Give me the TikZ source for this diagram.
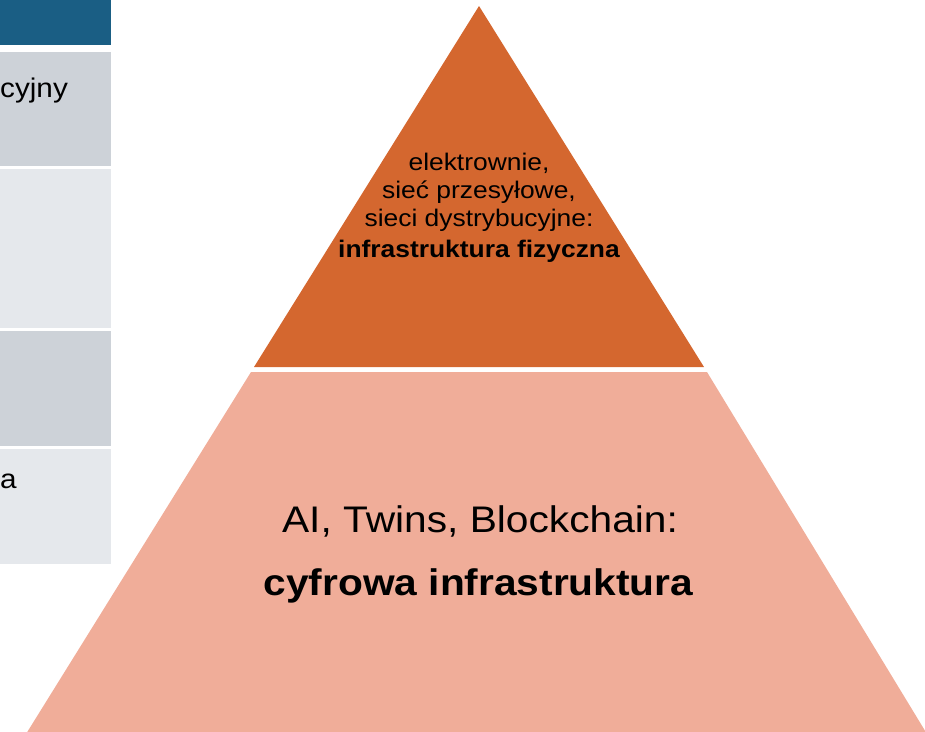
\documentclass[tikz,border=0pt]{standalone}
\usepackage{fontspec}
\setmainfont{Liberation Sans}[FakeStretch=1.1]
\definecolor{hdrblue}{HTML}{1A5E84}
\definecolor{rowgray}{HTML}{CDD2D8}
\definecolor{rowlight}{HTML}{E5E8EC}
\definecolor{toporange}{HTML}{D4672F}
\definecolor{lowpink}{HTML}{F0AD99}
\tikzset{
  cell/.style={inner sep=0pt, outer sep=0pt},
  toptext/.style={anchor=base, inner sep=0pt, font=\fontsize{24}{28}\selectfont},
  lowtext/.style={anchor=base, inner sep=0pt, font=\fontsize{37}{44}\selectfont},
  tabtext/.style={anchor=base west, inner sep=0pt, font=\fontsize{27}{32}\selectfont}
}
\begin{document}
\begin{tikzpicture}[x=1pt,y=-1pt]
\useasboundingbox (0,0) rectangle (925,731);
% partial table on the left
\fill[hdrblue] (0,0) rectangle (111,45);
\fill[rowgray] (0,52) rectangle (111,166);
\fill[rowlight] (0,168.5) rectangle (111,328);
\fill[rowgray] (0,331) rectangle (111,446);
\fill[rowlight] (0,449) rectangle (111,564);
\node[tabtext] (t1) at (0,97) {cyjny};
\node[tabtext] (t4) at (0,488) {a};
% pyramid
\fill[toporange] (479,6) -- (704,367) -- (254,367) -- cycle;
\fill[lowpink] (251,372) -- (707,372) -- (927,734) -- (26,734) -- cycle;
% top text
\node[toptext] (l1) at (479,170) {elektrownie,};
\node[toptext] (l2) at (479,198) {sieć przesyłowe,};
\node[toptext] (l3) at (479,226) {sieci dystrybucyjne:};
\node[toptext] (l4) at (479,257) {\bfseries infrastruktura fizyczna};
% lower text
\node[lowtext] (m1) at (480,532) {AI, Twins, Blockchain:};
\node[lowtext] (m2) at (478.5,595) {\bfseries cyfrowa infrastruktura};
\end{tikzpicture}
\end{document}
